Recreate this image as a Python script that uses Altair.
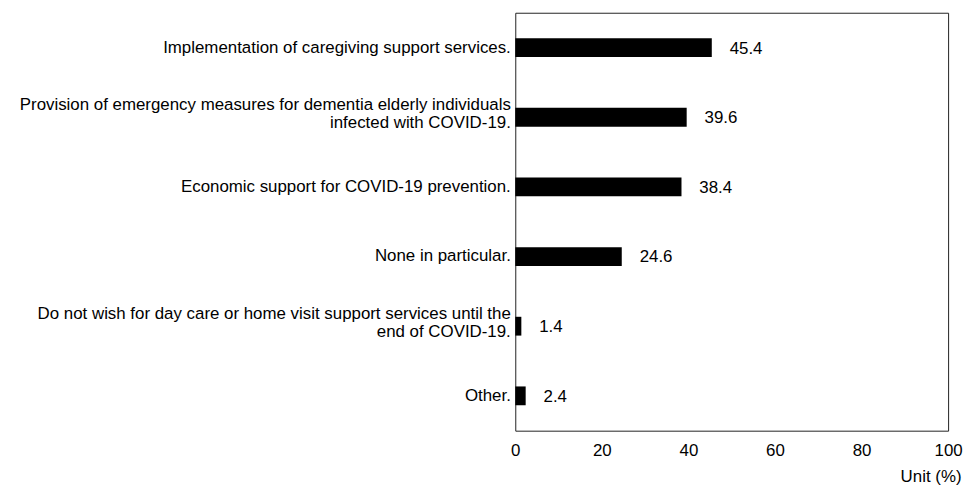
import altair as alt
import pandas as pd

categories = [
    "Implementation of caregiving support services.",
    "Provision of emergency measures for dementia elderly individuals|infected with COVID-19.",
    "Economic support for COVID-19 prevention.",
    "None in particular.",
    "Do not wish for day care or home visit support services until the|end of COVID-19.",
    "Other.",
]
values = [45.4, 39.6, 38.4, 24.6, 1.4, 2.4]
x_ticks = [0, 20, 40, 60, 80, 100]

df = pd.DataFrame({"cat": categories, "val": values})
df["lbl"] = df["val"].map(lambda v: f"{v:.1f}")

FONT = "Liberation Sans"
FS = 17

y_enc = alt.Y(
    "cat:N",
    sort=categories,
    title=None,
    scale=alt.Scale(paddingInner=0.73, paddingOuter=0.365),
    axis=alt.Axis(
        labelExpr="split(datum.label, '|')",
        labelFontSize=FS,
        labelLineHeight=18,
        labelColor="black",
        labelFont=FONT,
        labelOffset={"condition": {"test": "indexof(datum.value, '|') >= 0", "value": -12}, "value": 0},
        ticks=False,
        domain=False,
        labelPadding=5,
        labelLimit=0,
    ),
)

x_enc = alt.X(
    "val:Q",
    scale=alt.Scale(domain=[0, 100], nice=False),
    axis=alt.Axis(
        values=x_ticks,
        title="Unit (%)",
        titleFontWeight="normal",
        titleFontSize=FS,
        titleFont=FONT,
        titleColor="black",
        titleAnchor="end",
        titleAlign="right",
        titleBaseline="top",
        titleX=449,
        titleY=38,
        labelFontSize=FS,
        labelFont=FONT,
        labelColor="black",
        labelPadding=12,
        labelFlush=False,
        ticks=False,
        domain=False,
        grid=False,
    ),
)

bars = alt.Chart(df).mark_bar(color="black").encode(x=x_enc, y=y_enc)
texts = alt.Chart(df).mark_text(
    align="left", baseline="middle", dx=18, dy=1, fontSize=FS, font=FONT, color="black"
).encode(x="val:Q", y=alt.Y("cat:N", sort=categories), text="lbl:N")

chart = (
    alt.layer(bars, texts)
    .properties(
        width=436,
        height=421,
        autosize=alt.AutoSizeParams(type="none"),
        padding={"left": 511, "top": 3, "right": 15, "bottom": 60},
    )
    .configure_view(stroke="#222", strokeWidth=1)
)

chart.save("out.html", embed_options={"renderer": "svg", "actions": False})
